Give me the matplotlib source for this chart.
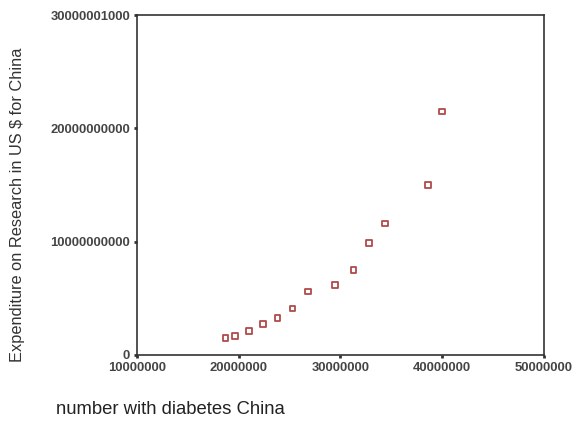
import matplotlib.pyplot as plt

plt.rcParams['font.family'] = ['Liberation Sans', 'DejaVu Sans']

# number with diabetes China vs. research expenditure (US $)
diabetes = [18.7e6, 19.6e6, 21.0e6, 22.4e6, 23.8e6, 25.3e6, 26.8e6,
            29.5e6, 31.3e6, 32.8e6, 34.4e6, 38.6e6, 40.0e6]
spending = [1.5e9, 1.7e9, 2.1e9, 2.7e9, 3.25e9, 4.1e9, 5.6e9,
            6.2e9, 7.5e9, 9.9e9, 11.6e9, 15.0e9, 21.5e9]

xticks = [10000000, 20000000, 30000000, 40000000, 50000000]
yticks = [0, 10000000000, 20000000000, 30000001000]

fig = plt.figure(figsize=(5.76, 4.21), dpi=100)
ax = fig.add_axes([0.238, 0.157, 0.706, 0.807])

ax.scatter(diabetes, spending, marker='s', s=17, facecolors='none',
           edgecolors='#b04a4a', linewidths=1.3)

ax.set_xlim(10000000, 50000000)
ax.set_ylim(0, 30000001000)
ax.set_xticks(xticks)
ax.set_xticklabels([str(t) for t in xticks])
ax.set_yticks(yticks)
ax.set_yticklabels([str(t) for t in yticks])

for s in ax.spines.values():
    s.set_color('#333333')
    s.set_linewidth(1.2)
ax.tick_params(length=2, width=2, color='#333333', labelsize=9.4,
               labelcolor='#444444', pad=3)
for lbl in ax.get_xticklabels() + ax.get_yticklabels():
    lbl.set_fontweight('bold')

fig.text(0.03, 0.513, 'Expenditure on Research in US $ for China',
         rotation=90, ha='center', va='center', fontsize=11.8, color='#333333')
fig.text(0.097, 0.028, 'number with diabetes China', ha='left', va='center',
         fontsize=13.3, color='#222222')

fig.savefig('out.png', dpi=100)
